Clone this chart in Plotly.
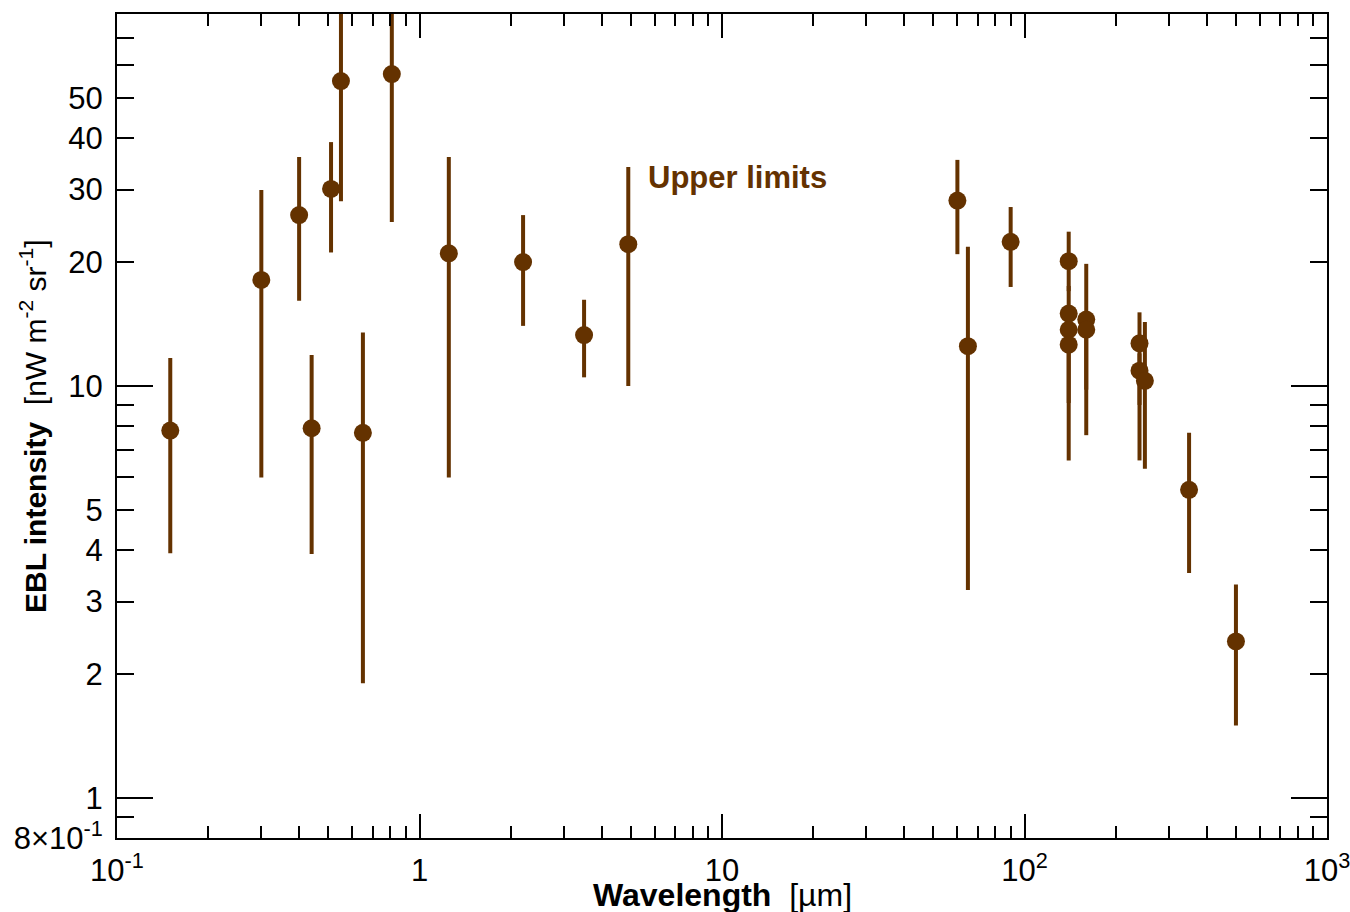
import numpy as np
import plotly.graph_objects as go

# Data
wavelength = [0.15, 0.30, 0.40, 0.44, 0.51, 0.55, 0.65, 0.81, 1.25, 2.2, 3.5, 4.9,
              60, 65, 90, 140, 140, 140, 140, 160, 160, 240, 240, 250, 350, 500]
intensity = [7.8, 18.1, 26.0, 7.9, 30.1, 55.0, 7.7, 57.2, 21.0, 20.0, 13.3, 22.1,
             28.2, 12.5, 22.4, 20.1, 15.0, 13.7, 12.6, 14.5, 13.7, 12.7, 10.9, 10.3, 5.6, 2.4]
upper = [11.7, 29.9, 36.0, 11.9, 39.1, 120, 13.5, 120, 36.0, 26.0, 16.2, 34.0,
         35.4, 21.8, 27.2, 23.7, 17.5, 15.0, 13.5, 19.8, 15.0, 15.1, 12.0, 14.3, 7.7, 3.3]
lower = [3.93, 6.0, 16.1, 3.91, 21.1, 28.1, 1.90, 25.0, 6.0, 14.0, 10.5, 10.0,
         20.9, 3.2, 17.4, 17.0, 12.5, 6.6, 9.1, 9.8, 7.6, 9.0, 6.6, 6.3, 3.52, 1.50]

x_major = [0.1, 1, 10, 100, 1000]
x_major_text = ["10<sup>-1</sup>", "1", "10", "10<sup>2</sup>", "10<sup>3</sup>"]
y_labeled = [0.8, 1, 2, 3, 4, 5, 10, 20, 30, 40, 50]
y_labeled_text = ["8×10<sup>-1</sup>", "1", "2", "3", "4", "5", "10", "20", "30", "40", "50"]
y_long = [1, 10]
y_minor = [0.9, 6, 7, 8, 9, 60, 70, 80]
x_minor = [m * d for d in [0.1, 1, 10, 100] for m in range(2, 10)]

brown = "#643200"
FONT = "Liberation Sans, Arial, Helvetica, sans-serif"

iv = np.array(intensity)
plus = np.array(upper) - iv
minus = iv - np.array(lower)

fig = go.Figure()
fig.add_trace(go.Scatter(
    x=wavelength, y=intensity, mode="markers",
    marker=dict(color=brown, size=18, line=dict(width=0)),
    error_y=dict(type="data", symmetric=False, array=plus, arrayminus=minus,
                 color=brown, thickness=4, width=0),
    showlegend=False,
))
# invisible trace to attach the overlay axis (long major ticks)
fig.add_trace(go.Scatter(
    x=wavelength, y=intensity, yaxis="y2", mode="markers",
    marker=dict(opacity=0), hoverinfo="skip", showlegend=False,
))

yr = [np.log10(0.8), np.log10(80)]
xr = [-1, 3]

fig.update_layout(
    width=1350, height=912,
    margin=dict(l=117, r=23, t=14, b=74, autoexpand=False),
    paper_bgcolor="white", plot_bgcolor="white",
    font=dict(family=FONT, size=30, color="black"),
    xaxis=dict(
        type="log", range=xr, automargin=False, ticklabeloverflow="allow",
        tickmode="array", tickvals=x_major, ticktext=x_major_text,
        ticks="inside", ticklen=24, tickwidth=2, tickcolor="black",
        minor=dict(tickmode="array", tickvals=x_minor, ticks="inside",
                   ticklen=12, tickwidth=2, tickcolor="black", showgrid=False),
        showline=True, linewidth=2, linecolor="black", mirror="ticks",
        showgrid=False, zeroline=False, ticklabelstandoff=4,
        tickfont=dict(size=31, family=FONT),
    ),
    yaxis=dict(
        type="log", range=yr, automargin=False, ticklabeloverflow="allow",
        tickmode="array", tickvals=y_labeled, ticktext=y_labeled_text,
        ticks="inside", ticklen=17, tickwidth=2, tickcolor="black",
        minor=dict(tickmode="array", tickvals=y_minor, ticks="inside",
                   ticklen=17, tickwidth=2, tickcolor="black", showgrid=False),
        showline=True, linewidth=2, linecolor="black", mirror="ticks",
        showgrid=False, zeroline=False, ticklabelstandoff=6,
        tickfont=dict(size=31, family=FONT),
    ),
    yaxis2=dict(
        type="log", range=yr, overlaying="y", side="left", anchor="x",
        automargin=False,
        tickmode="array", tickvals=y_long, showticklabels=False,
        ticks="inside", ticklen=36, tickwidth=2, tickcolor="black",
        showline=False, mirror="ticks", showgrid=False, zeroline=False,
    ),
    annotations=[
        dict(text="<b>Upper limits</b>", x=np.log10(5.6), y=np.log10(32.0),
             xref="x", yref="y", xanchor="left", yanchor="middle",
             showarrow=False, font=dict(size=31, color=brown, family=FONT)),
        dict(text="<b>Wavelength</b>  [µm]", x=0.5, y=-0.069,
             xref="paper", yref="paper", xanchor="center", yanchor="middle",
             showarrow=False, font=dict(size=32, color="black", family=FONT)),
        dict(text="<b>EBL intensity</b>  [nW m<sup>-2</sup> sr<sup>-1</sup>]",
             x=-0.0694, y=0.5, xref="paper", yref="paper", textangle=-90,
             xanchor="center", yanchor="middle",
             showarrow=False, font=dict(size=30, color="black", family=FONT)),
    ],
)

fig.write_html("out.html")
